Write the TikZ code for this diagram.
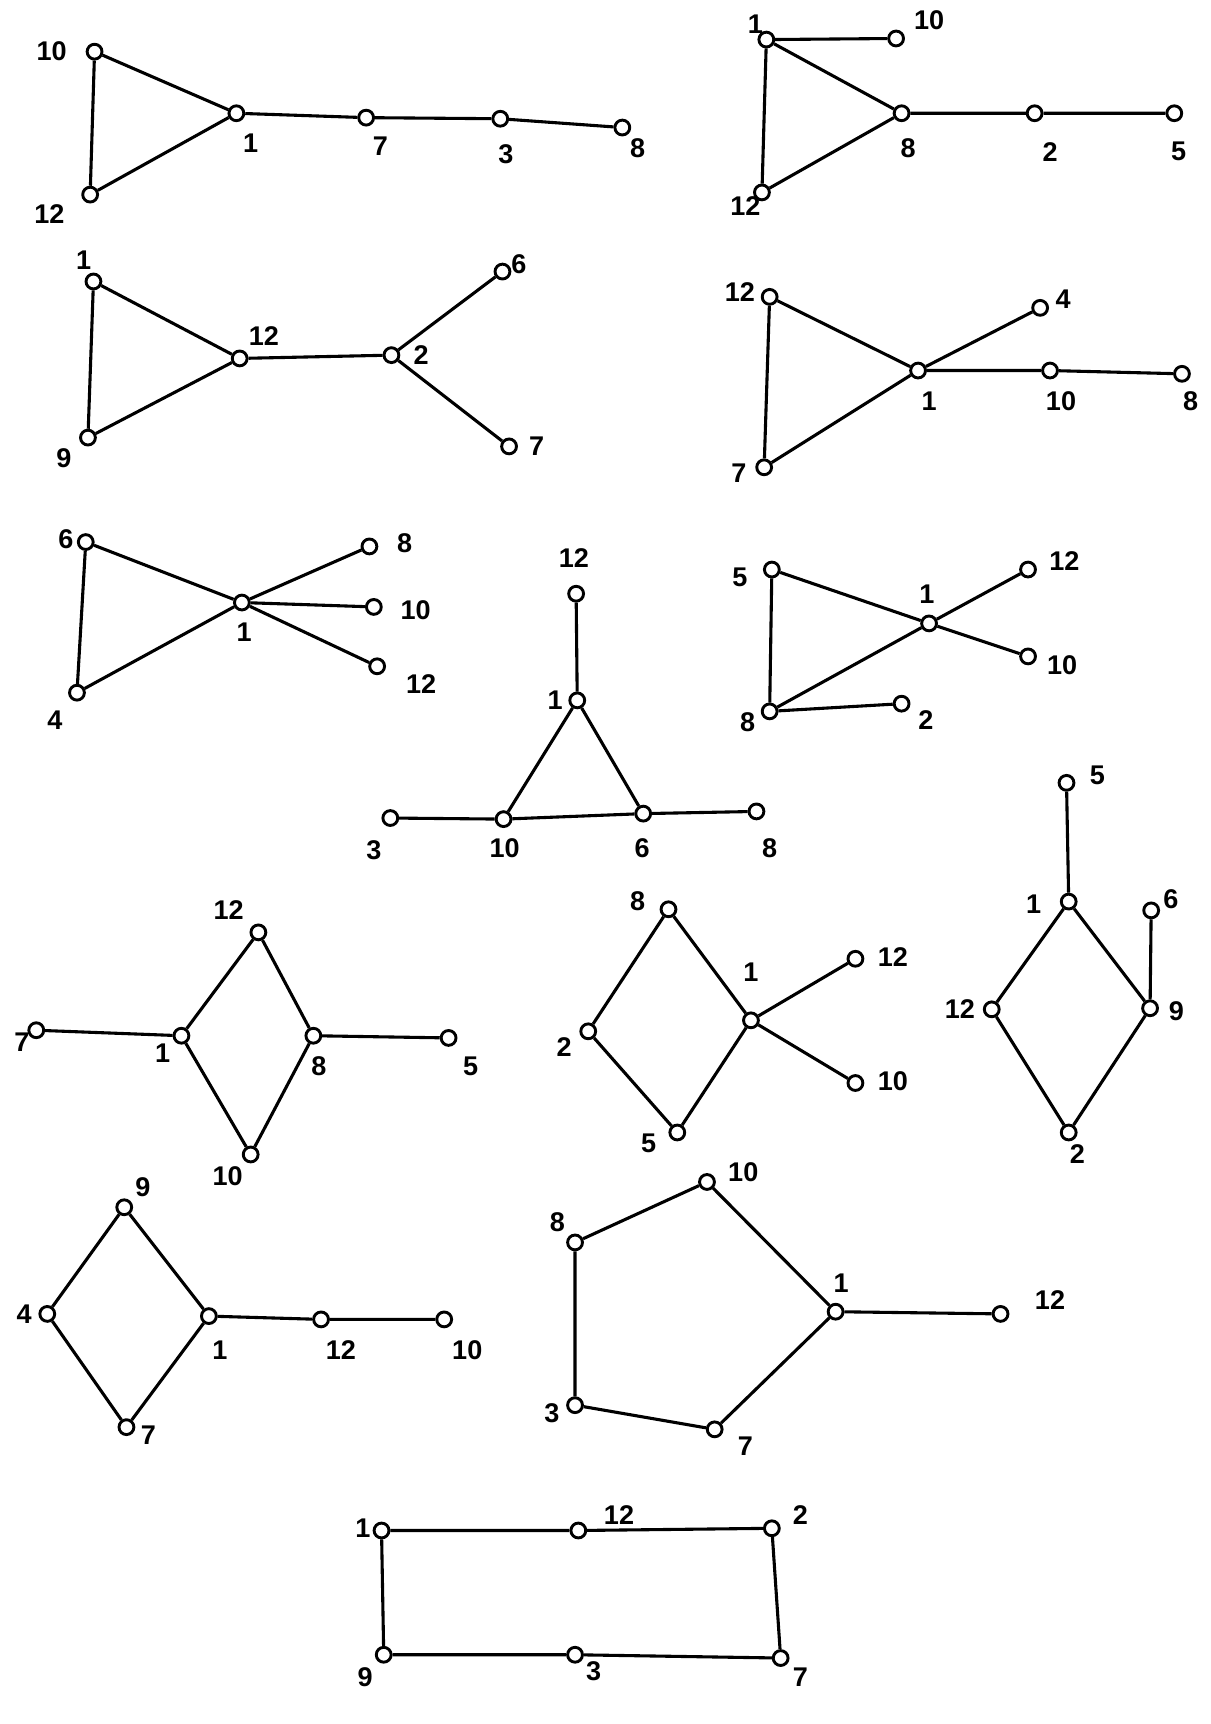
\documentclass[tikz,border=0pt]{standalone}
\usepackage{fontspec}
\setmainfont{Liberation Sans}
\begin{document}
\begin{tikzpicture}[x=0.02cm,y=-0.02cm,
  v/.style={circle,draw,line width=1.5pt,inner sep=0pt,minimum size=0.27cm,fill=white},
  lab/.style={inner sep=0pt,font=\fontsize{14}{16}\selectfont\bfseries},
  e/.style={line width=1.6pt}]
\useasboundingbox[fill=white] (0,0) rectangle (1101,1568);
% ---------- Graph 1
\node[v] (a10) at (86,47) {};
\node[v] (a12) at (82,177) {};
\node[v] (a1) at (215,103) {};
\node[v] (a7) at (333,107) {};
\node[v] (a3) at (455,108) {};
\node[v] (a8) at (566,116) {};
\draw[e] (a10)--(a12) (a10)--(a1) (a12)--(a1) (a1)--(a7) (a7)--(a3) (a3)--(a8);
\node[lab] (la10) at (47,47) {10};
\node[lab] (la12) at (45,195) {12};
\node[lab] (la1) at (228,130) {1};
\node[lab] (la7) at (346,133) {7};
\node[lab] (la3) at (460,140) {3};
\node[lab] (la8) at (580,135) {8};
% ---------- Graph 2
\node[v] (b1) at (697,36) {};
\node[v] (b10) at (815,35) {};
\node[v] (b12) at (693,175) {};
\node[v] (b8) at (820,103) {};
\node[v] (b2) at (941,103) {};
\node[v] (b5) at (1068,103) {};
\draw[e] (b1)--(b10) (b1)--(b12) (b1)--(b8) (b12)--(b8) (b8)--(b2) (b2)--(b5);
\node[lab] (lb1) at (687,22) {1};
\node[lab] (lb10) at (845,18) {10};
\node[lab] (lb12) at (678,187) {12};
\node[lab] (lb8) at (826,135) {8};
\node[lab] (lb2) at (955,138) {2};
\node[lab] (lb5) at (1072,138) {5};
% ---------- Graph 3
\node[v] (c1) at (85,256) {};
\node[v] (c9) at (80,398) {};
\node[v] (c12) at (218,326) {};
\node[v] (c2) at (356,323) {};
\node[v] (c6) at (457,247) {};
\node[v] (c7) at (463,406) {};
\draw[e] (c1)--(c9) (c1)--(c12) (c9)--(c12) (c12)--(c2) (c2)--(c6) (c2)--(c7);
\node[lab] (lc1) at (76,237) {1};
\node[lab] (lc9) at (58,417) {9};
\node[lab] (lc12) at (240,306) {12};
\node[lab] (lc2) at (383,323) {2};
\node[lab] (lc6) at (472,240) {6};
\node[lab] (lc7) at (488,406) {7};
% ---------- Graph 4
\node[v] (d12) at (700,270) {};
\node[v] (d7) at (695,425) {};
\node[v] (d1) at (835,337) {};
\node[v] (d4) at (946,280) {};
\node[v] (d10) at (955,337) {};
\node[v] (d8) at (1075,340) {};
\draw[e] (d12)--(d7) (d12)--(d1) (d7)--(d1) (d1)--(d4) (d1)--(d10) (d10)--(d8);
\node[lab] (ld12) at (673,266) {12};
\node[lab] (ld7) at (672,430) {7};
\node[lab] (ld1) at (845,365) {1};
\node[lab] (ld4) at (967,272) {4};
\node[lab] (ld10) at (965,365) {10};
\node[lab] (ld8) at (1083,365) {8};
% ---------- Graph 5
\node[v] (f6) at (78,493) {};
\node[v] (f4) at (70,630) {};
\node[v] (f1) at (220,548) {};
\node[v] (f8) at (336,497) {};
\node[v] (f10) at (340,552) {};
\node[v] (f12) at (343,606) {};
\draw[e] (f6)--(f4) (f6)--(f1) (f4)--(f1) (f1)--(f8) (f1)--(f10) (f1)--(f12);
\node[lab] (lf6) at (60,490) {6};
\node[lab] (lf4) at (50,655) {4};
\node[lab] (lf1) at (222,575) {1};
\node[lab] (lf8) at (368,494) {8};
\node[lab] (lf10) at (378,555) {10};
\node[lab] (lf12) at (383,622) {12};
% ---------- Graph 6
\node[v] (g12) at (524,540) {};
\node[v] (g1) at (525,637) {};
\node[v] (g10) at (458,745) {};
\node[v] (g6) at (585,740) {};
\node[v] (g3) at (355,744) {};
\node[v] (g8) at (688,738) {};
\draw[e] (g12)--(g1) (g1)--(g10) (g1)--(g6) (g10)--(g6) (g3)--(g10) (g6)--(g8);
\node[lab] (lg12) at (522,508) {12};
\node[lab] (lg1) at (505,637) {1};
\node[lab] (lg10) at (459,771) {10};
\node[lab] (lg6) at (584,771) {6};
\node[lab] (lg3) at (340,773) {3};
\node[lab] (lg8) at (700,771) {8};
% ---------- Graph 7
\node[v] (h5) at (702,518) {};
\node[v] (h8) at (700,647) {};
\node[v] (h1) at (845,567) {};
\node[v] (h12) at (935,518) {};
\node[v] (h10) at (935,597) {};
\node[v] (h2) at (820,640) {};
\draw[e] (h5)--(h8) (h5)--(h1) (h8)--(h1) (h1)--(h12) (h1)--(h10) (h8)--(h2);
\node[lab] (lh5) at (673,525) {5};
\node[lab] (lh8) at (680,657) {8};
\node[lab] (lh1) at (843,540) {1};
\node[lab] (lh12) at (968,510) {12};
\node[lab] (lh10) at (966,605) {10};
\node[lab] (lh2) at (842,655) {2};
% ---------- Graph 8
\node[v] (k5) at (970,712) {};
\node[v] (k1) at (972,820) {};
\node[v] (k6) at (1047,828) {};
\node[v] (k9) at (1046,917) {};
\node[v] (k12) at (902,918) {};
\node[v] (k2) at (972,1030) {};
\draw[e] (k5)--(k1) (k1)--(k12) (k1)--(k9) (k6)--(k9) (k12)--(k2) (k9)--(k2);
\node[lab] (lk5) at (998,705) {5};
\node[lab] (lk1) at (940,822) {1};
\node[lab] (lk6) at (1065,818) {6};
\node[lab] (lk9) at (1070,920) {9};
\node[lab] (lk12) at (873,918) {12};
\node[lab] (lk2) at (980,1050) {2};
% ---------- Graph 9
\node[v] (m12) at (235,848) {};
\node[v] (m7) at (33,937) {};
\node[v] (m1) at (165,942) {};
\node[v] (m8) at (285,942) {};
\node[v] (m5) at (408,944) {};
\node[v] (m10) at (228,1050) {};
\draw[e] (m12)--(m1) (m12)--(m8) (m1)--(m10) (m8)--(m10) (m7)--(m1) (m8)--(m5);
\node[lab] (lm12) at (208,828) {12};
\node[lab] (lm7) at (20,948) {7};
\node[lab] (lm1) at (148,958) {1};
\node[lab] (lm8) at (290,970) {8};
\node[lab] (lm5) at (428,970) {5};
\node[lab] (lm10) at (207,1070) {10};
% ---------- Graph 10
\node[v] (n8) at (608,827) {};
\node[v] (n2) at (535,938) {};
\node[v] (n1) at (683,928) {};
\node[v] (n12) at (778,872) {};
\node[v] (n10) at (778,985) {};
\node[v] (n5) at (616,1030) {};
\draw[e] (n8)--(n2) (n8)--(n1) (n2)--(n5) (n5)--(n1) (n1)--(n12) (n1)--(n10);
\node[lab] (ln8) at (580,820) {8};
\node[lab] (ln2) at (513,952) {2};
\node[lab] (ln1) at (683,884) {1};
\node[lab] (ln12) at (812,870) {12};
\node[lab] (ln10) at (812,983) {10};
\node[lab] (ln5) at (590,1040) {5};
% ---------- Graph 11
\node[v] (p9) at (113,1098) {};
\node[v] (p4) at (43,1195) {};
\node[v] (p1) at (190,1197) {};
\node[v] (p7) at (115,1298) {};
\node[v] (p12) at (292,1200) {};
\node[v] (p10) at (404,1200) {};
\draw[e] (p9)--(p4) (p9)--(p1) (p4)--(p7) (p7)--(p1) (p1)--(p12) (p12)--(p10);
\node[lab] (lp9) at (130,1080) {9};
\node[lab] (lp4) at (22,1195) {4};
\node[lab] (lp1) at (200,1228) {1};
\node[lab] (lp7) at (135,1305) {7};
\node[lab] (lp12) at (310,1228) {12};
\node[lab] (lp10) at (425,1228) {10};
% ---------- Graph 12
\node[v] (q10) at (643,1075) {};
\node[v] (q8) at (523,1130) {};
\node[v] (q1) at (760,1193) {};
\node[v] (q12) at (910,1195) {};
\node[v] (q3) at (523,1278) {};
\node[v] (q7) at (650,1300) {};
\draw[e] (q8)--(q10) (q10)--(q1) (q1)--(q12) (q1)--(q7) (q7)--(q3) (q3)--(q8);
\node[lab] (lq10) at (676,1066) {10};
\node[lab] (lq8) at (507,1112) {8};
\node[lab] (lq1) at (765,1167) {1};
\node[lab] (lq12) at (955,1182) {12};
\node[lab] (lq3) at (502,1285) {3};
\node[lab] (lq7) at (678,1315) {7};
% ---------- Graph 13
\node[v] (r1) at (347,1392) {};
\node[v] (r12) at (526,1392) {};
\node[v] (r2) at (702,1390) {};
\node[v] (r9) at (349,1505) {};
\node[v] (r3) at (523,1505) {};
\node[v] (r7) at (710,1508) {};
\draw[e] (r1)--(r12) (r12)--(r2) (r1)--(r9) (r2)--(r7) (r9)--(r3) (r3)--(r7);
\node[lab] (lr1) at (330,1390) {1};
\node[lab] (lr12) at (563,1378) {12};
\node[lab] (lr2) at (728,1378) {2};
\node[lab] (lr9) at (332,1525) {9};
\node[lab] (lr3) at (540,1520) {3};
\node[lab] (lr7) at (728,1525) {7};
\end{tikzpicture}
\end{document}
